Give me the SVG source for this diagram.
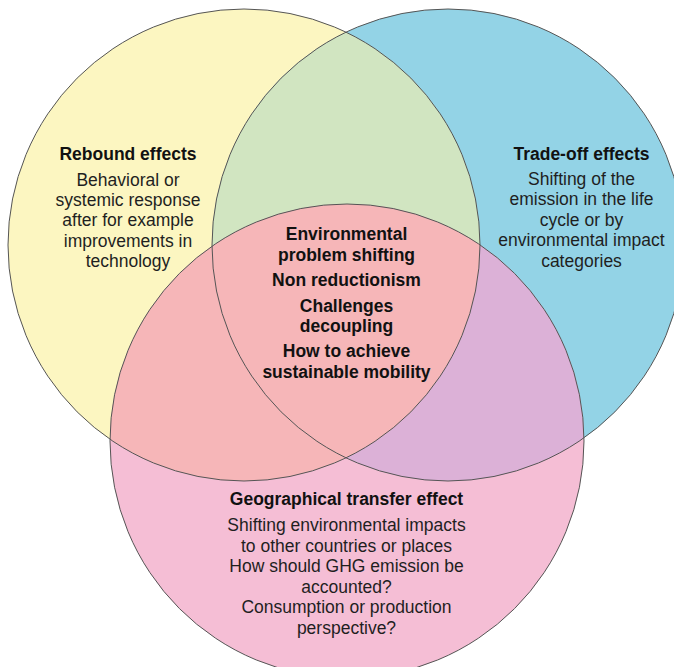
<svg xmlns="http://www.w3.org/2000/svg" width="674" height="667" viewBox="0 0 674 667">
<style>
.t{font-family:"Liberation Sans",Arial,sans-serif;font-size:17.5px;fill:#1f1f1f;text-anchor:middle}
.b{font-weight:bold;fill:#111}
.o{fill:none;stroke:#555;stroke-width:1}
</style>
<defs>
<clipPath id="cy"><circle cx="244" cy="245" r="236"/></clipPath>
<clipPath id="cb"><circle cx="448" cy="245" r="236"/></clipPath>
</defs>
<rect width="674" height="667" fill="#ffffff"/>
<g id="regions">
<circle cx="244" cy="245" r="236" fill="#fcf6c1"/>
<circle cx="448" cy="245" r="236" fill="#93d3e6"/>
<circle cx="347" cy="441" r="237" fill="#f5bed5"/>
<circle cx="448" cy="245" r="236" fill="#d1e5c1" clip-path="url(#cy)"/>
<circle cx="347" cy="441" r="237" fill="#dcb1d7" clip-path="url(#cb)"/>
<circle cx="347" cy="441" r="237" fill="#f6b6b8" clip-path="url(#cy)"/>
</g>
<g id="connectors"></g>
<g id="rebound">
<circle class="o" cx="244" cy="245" r="236"/>
<text class="t b" x="128" y="159.5">Rebound effects</text>
<text class="t" x="128" y="185.5">Behavioral or</text>
<text class="t" x="128" y="205.5">systemic response</text>
<text class="t" x="128" y="226">after for example</text>
<text class="t" x="128" y="246.5">improvements in</text>
<text class="t" x="128" y="267">technology</text>
</g>
<g id="tradeoff">
<circle class="o" cx="448" cy="245" r="236"/>
<text class="t b" x="581.5" y="159.5">Trade-off effects</text>
<text class="t" x="581.5" y="184.5">Shifting of the</text>
<text class="t" x="581.5" y="205">emission in the life</text>
<text class="t" x="581.5" y="225.5">cycle or by</text>
<text class="t" x="581.5" y="246">environmental impact</text>
<text class="t" x="581.5" y="266.5">categories</text>
</g>
<g id="geographical">
<circle class="o" cx="347" cy="441" r="237"/>
<text class="t b" x="346.5" y="505">Geographical transfer effect</text>
<text class="t" x="346.5" y="531">Shifting environmental impacts</text>
<text class="t" x="346.5" y="551.5">to other countries or places</text>
<text class="t" x="346.5" y="572">How should GHG emission be</text>
<text class="t" x="346.5" y="592.5">accounted?</text>
<text class="t" x="346.5" y="613">Consumption or production</text>
<text class="t" x="346.5" y="633.5">perspective?</text>
</g>
<g id="center">
<text class="t b" x="346.5" y="240">Environmental</text>
<text class="t b" x="346.5" y="260.5">problem shifting</text>
<text class="t b" x="346.5" y="286">Non reductionism</text>
<text class="t b" x="346.5" y="311.5">Challenges</text>
<text class="t b" x="346.5" y="332">decoupling</text>
<text class="t b" x="346.5" y="357">How to achieve</text>
<text class="t b" x="346.5" y="377.5">sustainable mobility</text>
</g>
</svg>
